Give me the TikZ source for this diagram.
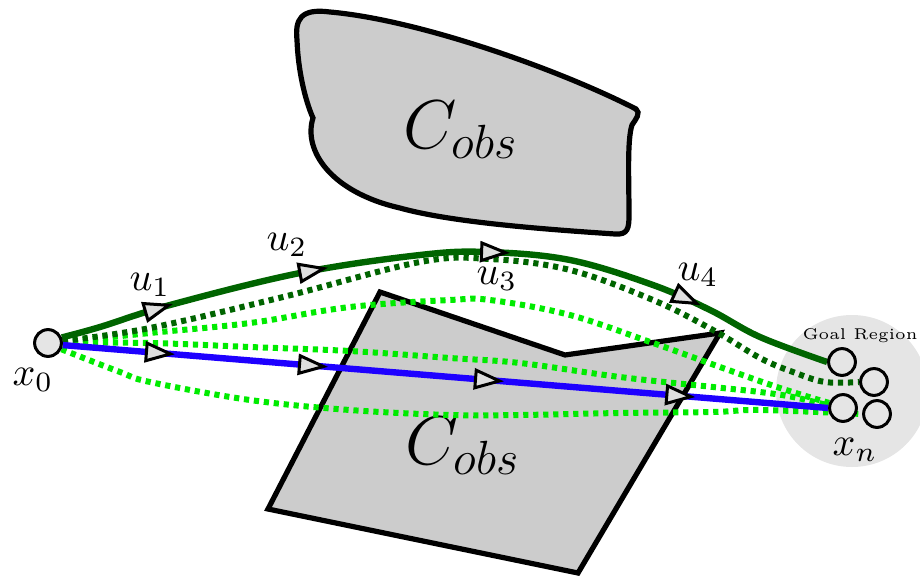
\documentclass[tikz,border=0pt]{standalone}
\usepackage{amsmath,amssymb}
\usepackage{tikz}
\usetikzlibrary{decorations.markings}
\definecolor{dkgreen}{RGB}{0,100,0}
\definecolor{ltgreen}{RGB}{0,235,0}
\definecolor{trajblue}{RGB}{30,0,255}
\pgfdeclarelayer{bg}
\pgfdeclarelayer{mid}
\pgfsetlayers{bg,mid,main}
\newcommand{\ctrltri}{\draw[black,fill=gray!25,line width=0.75pt,solid] (-3pt,-2.2pt) -- (3pt,0pt) -- (-3pt,2.2pt) -- cycle;}

\begin{document}
\begin{tikzpicture}[x=0.25pt,y=-0.25pt,
    obst/.style={draw=black,fill=gray!40,line width=1.3pt},
    traj/.style={line width=1.6pt},
    dots/.style={line width=1.5pt,dash pattern=on 1.3pt off 1.2pt},
    state/.style={circle,draw,line width=0.75pt,fill=gray!20,inner sep=0pt,minimum size=6.7pt},
    ctrl/.style={decoration={markings,
        mark=at position 0.125 with {\ctrltri},
        mark=at position 0.325 with {\ctrltri},
        mark=at position 0.555 with {\ctrltri},
        mark=at position 0.805 with {\ctrltri}},postaction={decorate}}]
  \useasboundingbox (0,0) rectangle (920,578);
  % Start and goal states
  \node[state] (x0) at (48,343) {};
  \node at (33,380) {$x_0$};
  \begin{pgfonlayer}{bg}
    \node[circle,fill=gray!20,inner sep=0pt,minimum size=38pt] (goal) at (852,391) {};
  \end{pgfonlayer}
  \foreach \n/\p in {g1/{(842,362)},g2/{(874,382)},g3/{(843,408)},g4/{(877,414)}}
    \node[state] (\n) at \p {};
  \node[font=\fontsize{3.9}{4.5}\selectfont] (goallbl) at (860,336) {Goal Region};
  \node at (855,450) {$x_n$};
  % Obstacles
  \begin{pgfonlayer}{bg}
    \draw[obst] (313,118) .. controls (303,150) and (330,192) .. (400,208)
      .. controls (450,222) and (540,229) .. (615,234)
      .. controls (628,235) and (629,228) .. (629,215)
      .. controls (629,180) and (627,140) .. (632,125)
      .. controls (636,119) and (641,113) .. (636,109)
      .. controls (560,70) and (420,20) .. (330,12)
      .. controls (300,8) and (295,20) .. (297,40)
      .. controls (298,70) and (305,100) .. (313,118) -- cycle;
    \node[font=\LARGE] at (461,130) {$C_{obs}$};
    \draw[obst] (380,292) -- (565,355) -- (720,333) -- (578,573) -- (268,509) -- cycle;
    \node[font=\LARGE] at (463,446) {$C_{obs}$};
  \end{pgfonlayer}
  % Candidate trajectories
  \begin{pgfonlayer}{mid}
    \draw[ltgreen,dots] plot[smooth,tension=0.6] coordinates {(x0.-25) (120,372) (150,382) (250,400) (350,410) (450,415) (520,415) (620,413) (713,412) (760,410) (g4.west)};
    \draw[ltgreen,dots] plot[smooth,tension=0.6] coordinates {(x0.0) (150,343) (250,347) (350,351) (450,358) (520,363) (620,377) (713,387) (760,392) (793,397) (g3.170)};
    \draw[ltgreen,dots] plot[smooth,tension=0.6] coordinates {(x0.3) (150,333) (250,323) (350,307) (450,300) (490,300) (570,315) (653,343) (720,367) (780,388) (g3.160)};
    \draw[dkgreen,dots] plot[smooth,tension=0.6] coordinates {(x0.8) (150,328) (283,297) (420,262) (490,259) (570,270) (653,300) (713,330) (760,358) (793,372) (825,382) (g2.west)};
    % Executed trajectories
    \draw[trajblue,traj,ctrl] (x0.-8) -- (g3.west);
    \draw[dkgreen,traj,ctrl] plot[smooth,tension=0.6] coordinates {(x0.22) (100,327) (170,305) (300,273) (420,255) (487,252) (570,260) (653,285) (710,310) (760,337) (g1.west)};
  \end{pgfonlayer}
  \node at (150,285) {$u_1$};
  \node at (287,245) {$u_2$};
  \node at (497,279) {$u_3$};
  \node at (698,275) {$u_4$};
\end{tikzpicture}
\end{document}
